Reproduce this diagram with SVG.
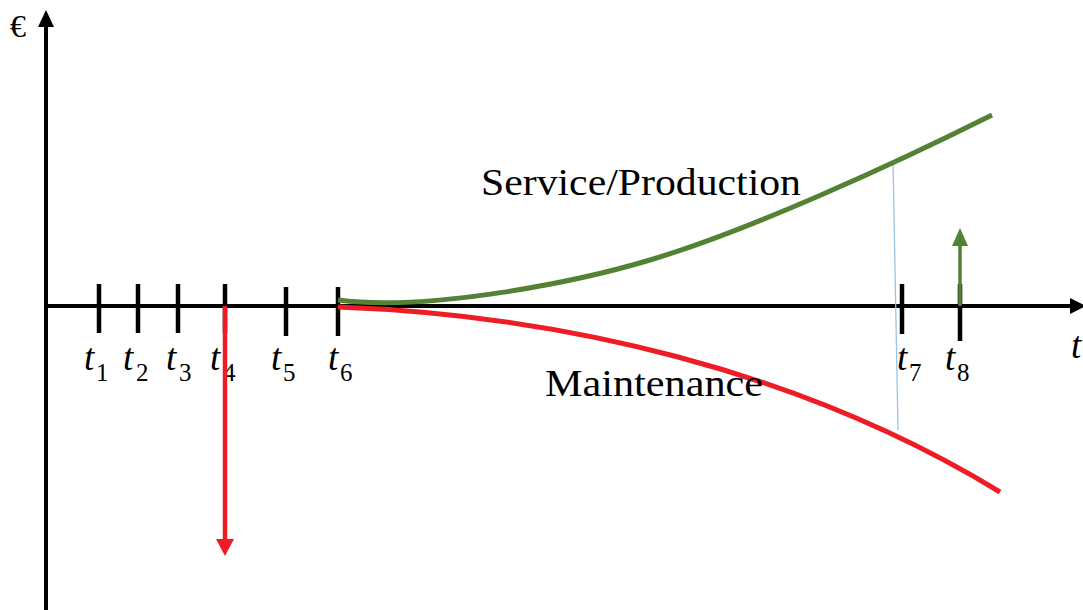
<svg xmlns="http://www.w3.org/2000/svg" width="1083" height="610" viewBox="0 0 1083 610">
<style>
.ax{stroke:#000;stroke-width:4;fill:none}
.tick{stroke:#000;stroke-width:4.5}
.lbl{font-family:"Liberation Serif",serif;font-style:italic;font-size:37px;fill:#000}
.sub{font-family:"Liberation Serif",serif;font-size:25px;fill:#000}
.cap{font-family:"Liberation Serif",serif;font-size:38px;fill:#000}
.green{stroke:#548235;stroke-width:5;fill:none}
.red{stroke:#ee1c25;stroke-width:5;fill:none}
</style>
<rect width="1083" height="610" fill="#fff"/>
<g id="axes">
<line class="ax" x1="46" y1="610" x2="46" y2="24"/>
<polygon points="46,10 38,27 54,27" fill="#000"/>
<line class="ax" x1="44" y1="306" x2="1072" y2="306"/>
<polygon points="1086,306 1070,298 1070,314" fill="#000"/>
<text x="10" y="37" font-family="Liberation Serif,serif" font-size="32">€</text>
<text class="lbl" x="1071" y="358">t</text>
</g>
<g id="reference-line">
<line x1="893" y1="160" x2="898" y2="430" stroke="#9dc3e6" stroke-width="1.3"/>
</g>
<g id="ticks">
<line class="tick" x1="99" y1="284" x2="99" y2="333"/>
<line class="tick" x1="138" y1="284" x2="138" y2="333"/>
<line class="tick" x1="178" y1="284" x2="178" y2="333"/>
<line class="tick" x1="225" y1="284" x2="225" y2="333"/>
<line class="tick" x1="286" y1="287" x2="286" y2="336"/>
<line class="tick" x1="338" y1="287" x2="338" y2="336"/>
<line class="tick" x1="902" y1="284" x2="902" y2="334"/>
<line class="tick" x1="960" y1="284" x2="960" y2="341"/>
</g>
<g id="tick-labels">
<text class="lbl" x="84" y="370">t</text><text class="sub" x="96" y="381">1</text>
<text class="lbl" x="123" y="370">t</text><text class="sub" x="136" y="381">2</text>
<text class="lbl" x="166" y="370">t</text><text class="sub" x="179" y="381">3</text>
<text class="lbl" x="210" y="370">t</text><text class="sub" x="223" y="381">4</text>
<text class="lbl" x="271" y="370">t</text><text class="sub" x="283" y="381">5</text>
<text class="lbl" x="328" y="370">t</text><text class="sub" x="340" y="381">6</text>
<text class="lbl" x="897" y="370">t</text><text class="sub" x="909" y="381">7</text>
<text class="lbl" x="945" y="370">t</text><text class="sub" x="957" y="381">8</text>
</g>
<g id="connectors">
<g id="service-production">
<path class="green" d="M338,300 C430,312 580,281 650,260 C750,230 892,165 992,115"/>
</g>
<g id="maintenance">
<path class="red" d="M338,307 C560,315 800,370 1000,492"/>
</g>
<g id="cost-arrow">
<line x1="225" y1="306" x2="225" y2="541" stroke="#ee1c25" stroke-width="4.5"/>
<polygon points="225,556 216,539 234,539" fill="#ee1c25"/>
</g>
<g id="revenue-arrow">
<line x1="960" y1="306" x2="960" y2="243" stroke="#548235" stroke-width="3.5"/>
<polygon points="960,228 952,246 968,246" fill="#548235"/>
</g>
</g>
<g id="labels">
<text class="cap" x="481" y="195" textLength="320" lengthAdjust="spacingAndGlyphs">Service/Production</text>
<text class="cap" x="545" y="396" textLength="218" lengthAdjust="spacingAndGlyphs">Maintenance</text>
</g>
</svg>
